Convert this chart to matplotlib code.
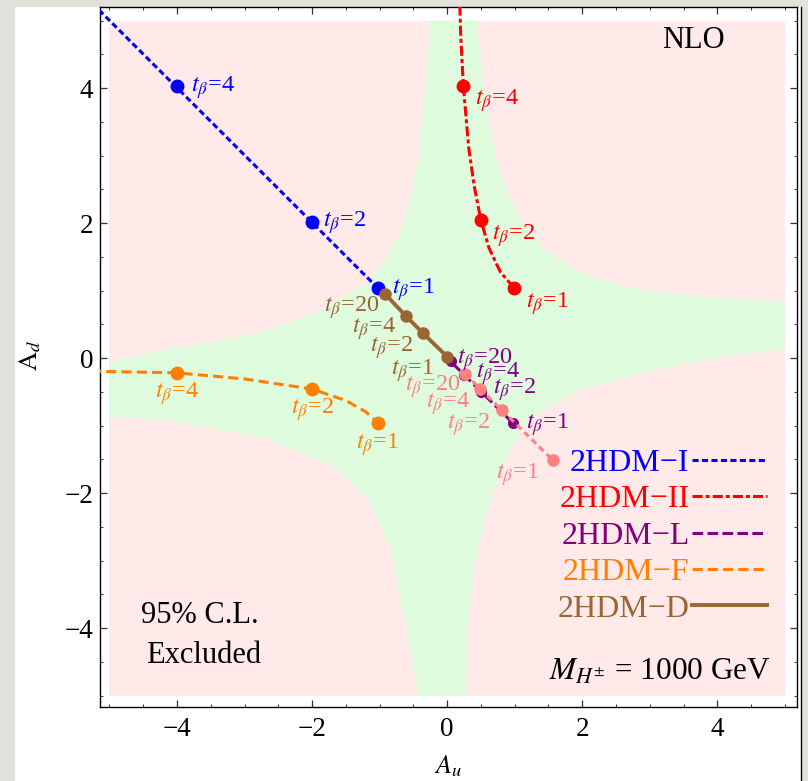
import matplotlib.pyplot as plt
from matplotlib.patches import Rectangle
from matplotlib.lines import Line2D
from matplotlib.ticker import MultipleLocator

plt.rcParams['font.family'] = ['Liberation Serif', 'DejaVu Serif']
plt.rcParams['mathtext.fontset'] = 'stix'

# b -> s gamma allowed band (green), boundary points
ur_x = [0.44, 0.52, 0.61, 0.70, 0.81, 1.00, 1.18, 1.42, 1.78, 2.07, 2.76, 3.26, 4.20, 5.00]
ur_y = [5.00, 4.20, 3.60, 3.10, 2.70, 2.22, 1.90, 1.63, 1.37, 1.22, 1.03, 0.96, 0.88, 0.84]
lr_x = [5.00, 3.94, 2.96, 1.97, 1.38, 1.08, 0.83, 0.64, 0.49, 0.39, 0.31, 0.28]
lr_y = [0.13, 0.00, -0.20, -0.47, -0.80, -1.07, -1.61, -2.10, -2.70, -3.19, -3.93, -5.00]
ll_x = [-0.43, -0.55, -0.70, -0.84, -1.19, -1.69, -2.67, -4.15, -5.00]
ll_y = [-5.00, -4.30, -3.58, -2.80, -2.06, -1.61, -1.19, -0.92, -0.87]
ul_x = [-5.00, -4.15, -3.66, -2.67, -1.85, -1.19, -0.95, -0.70, -0.55, -0.42, -0.32, -0.25]
ul_y = [-0.06, 0.14, 0.20, 0.40, 0.72, 1.11, 1.40, 1.85, 2.34, 3.00, 4.00, 5.00]
scan_lo, scan_hi = -5.0, 5.0

# model curves (A_u, A_d) and the marked t_beta points
I_x = [-1.02, -5.5]
I_y = [1.03, 5.5]
I_px = [-4.0, -2.0, -1.02]
I_py = [4.03, 2.02, 1.03]
I_tb = [4, 2, 1]

II_x = [0.99, 0.79, 0.62, 0.50, 0.40, 0.32, 0.24, 0.20, 0.18]
II_y = [1.04, 1.27, 1.63, 2.04, 2.55, 3.11, 4.03, 4.80, 5.50]
II_px = [0.24, 0.50, 0.99]
II_py = [4.03, 2.04, 1.04]
II_tb = [4, 2, 1]

L_x = [0.98, 0.05]
L_y = [-0.97, -0.05]
L_px = [0.98, 0.50, 0.25, 0.05]
L_py = [-0.97, -0.50, -0.25, -0.05]
L_tb = [1, 2, 4, 20]

F_x = [-5.5, -4.0, -3.0, -2.0, -1.5, -1.2, -1.02]
F_y = [-0.19, -0.22, -0.31, -0.46, -0.63, -0.80, -0.97]
F_px = [-4.0, -2.0, -1.02]
F_py = [-0.22, -0.46, -0.97]
F_tb = [4, 2, 1]

D_px = [-0.92, -0.61, -0.36, 0.00]
D_py = [0.95, 0.62, 0.37, 0.02]
D_tb = [20, 4, 2, 1]

P_px = [0.27, 0.49, 0.81, 1.56]
P_py = [-0.23, -0.46, -0.77, -1.51]
P_tb = [20, 4, 2, 1]

# label anchors
I_lx = [-3.80, -1.84, -0.82]
I_ly = [4.00, 2.00, 1.01]
II_lx = [0.41, 0.66, 1.17]
II_ly = [3.82, 1.82, 0.81]
L_lx = [1.17, 0.68, 0.43, 0.15]
L_ly = [-0.99, -0.47, -0.23, -0.03]
F_lx = [-4.0, -2.0, -1.04]
F_ly = [-0.52, -0.77, -1.29]
D_lx = [-1.00, -0.76, -0.50, -0.20]
D_ly = [0.74, 0.43, 0.16, -0.18]
P_lx = [0.19, 0.33, 0.64, 1.35]
P_ly = [-0.43, -0.67, -0.99, -1.73]

blue, red, purple, orange, brown, pink = '#0000FF', '#FF0000', '#800080', '#FF8000', '#996633', '#FF8080'

fig = plt.figure(figsize=(8.08, 7.81), dpi=100, facecolor='#E3E1DC')
fig.add_artist(Rectangle((15 / 808, 0), 786 / 808, 774 / 781, transform=fig.transFigure,
                         facecolor='white', edgecolor='none', zorder=0))
fig.add_artist(Line2D([801 / 808, 801 / 808], [0, 774 / 781], transform=fig.transFigure,
                      color='black', lw=1.0))
ax = fig.add_axes([100 / 808, 1 - 707 / 781, 697 / 808, 700 / 781])

ax.add_patch(Rectangle((scan_lo, scan_lo), scan_hi - scan_lo, scan_hi - scan_lo,
                       facecolor='#FFE9E9', edgecolor='none', zorder=0))
gx = ur_x + lr_x + ll_x + ul_x
gy = ur_y + lr_y + ll_y + ul_y
ax.fill(gx, gy, color='#DEFBDE', lw=0, zorder=1)

lw = 2.2
ax.plot(I_x, I_y, color=blue, lw=lw, ls=(0, (2.0, 1.1)), label='2HDM\u2212I', zorder=3)
ax.plot(II_x, II_y, color=red, lw=lw, ls=(0, (3.3, 1.0, 1.3, 1.0)), label='2HDM\u2212II', zorder=3)
ax.plot(L_x, L_y, color=purple, lw=lw, ls=(0, (3.5, 1.4)), label='2HDM\u2212L', zorder=3)
ax.plot(F_x, F_y, color=orange, lw=lw, ls=(0, (3.3, 1.7)), label='2HDM\u2212F', zorder=3)
ax.plot(D_px, D_py, color=brown, lw=2.8, ls='-', label='2HDM\u2212D', zorder=4)

ax.plot(I_px, I_py, 'o', color=blue, ms=9, zorder=4)
ax.plot(II_px, II_py, 'o', color=red, ms=9, zorder=4)
ax.plot(F_px, F_py, 'o', color=orange, ms=9, zorder=4)
ax.plot(L_px, L_py, 'o', color=purple, ms=7, zorder=3.5)
ax.plot(D_px, D_py, 'o', color=brown, ms=8, zorder=4.5)
ax.plot(P_px, P_py, color=pink, lw=lw, ls=(0, (2.0, 1.4)), zorder=5)
ax.plot(P_px, P_py, 'o', color=pink, ms=8, zorder=5)

fs = 17.5
def tb_labels(xs, ys, tbs, color, ha):
    for x, y, t in zip(xs, ys, tbs):
        ax.text(x, y, r'$t_\beta$=' + str(t), color=color, fontsize=fs, ha=ha, va='center', zorder=6)

tb_labels(I_lx, I_ly, I_tb, blue, 'left')
tb_labels(II_lx, II_ly, II_tb, red, 'left')
tb_labels(L_lx, L_ly, L_tb, purple, 'left')
tb_labels(F_lx, F_ly, F_tb, orange, 'center')
tb_labels(D_lx, D_ly, D_tb, brown, 'right')
tb_labels(P_lx, P_ly, P_tb, pink, 'right')

ax.text(3.64, 4.71, 'NLO', fontsize=22, ha='center', va='center')
ax.text(-3.66, -3.82, '95% C.L.', fontsize=22, ha='center', va='center')
ax.text(-3.61, -4.40, 'Excluded', fontsize=22, ha='center', va='center')
ax.text(4.79, -4.65, r'$M_{H^{\pm}}$ = 1000 GeV', fontsize=22.5, ha='right', va='center')

leg = ax.legend(loc='upper right', bbox_to_anchor=(0.957, 0.369), markerfirst=False,
                frameon=False, fontsize=23, handlelength=2.35, handletextpad=0.08,
                labelspacing=0.22, borderaxespad=0, borderpad=0, labelcolor='linecolor')

ax.set_xlim(-5.14, 5.18)
ax.set_ylim(-5.17, 5.2)
ax.xaxis.set_major_locator(MultipleLocator(2))
ax.yaxis.set_major_locator(MultipleLocator(2))
ax.xaxis.set_minor_locator(MultipleLocator(0.5))
ax.yaxis.set_minor_locator(MultipleLocator(0.5))
ax.tick_params(which='both', direction='in', top=True, right=True, colors='#333333')
ax.tick_params(which='major', length=5, width=0.9, labelsize=19.5, labelcolor='black')
ax.tick_params(which='minor', length=2.5, width=0.7)
ax.tick_params(axis='x', pad=7)
ax.tick_params(axis='y', pad=5)
for s in ax.spines.values():
    s.set_linewidth(1.0)

fig.text(30 / 808, 1 - 355 / 781, r'$\mathrm{A}_d$', rotation=90, fontsize=19, ha='center', va='center')
fig.text(448 / 808, 1 - 766 / 781, r'$A_u$', fontsize=19, ha='center', va='center')

fig.savefig('out.png', dpi=100, facecolor=fig.get_facecolor())
